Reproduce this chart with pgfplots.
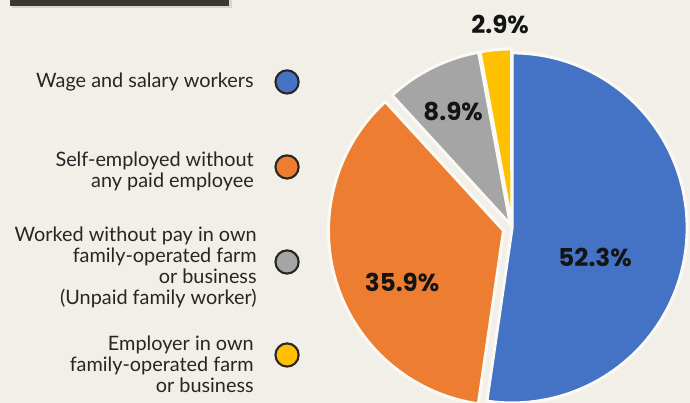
\documentclass[border=0pt]{standalone}
\usepackage{pgfplots}
\pgfplotsset{compat=1.18}
\usepackage{pgfplotstable}
\usepackage{fontspec}
\setmainfont{Lato}
\newfontfamily\pctfont{Poppins}

\definecolor{bg}{HTML}{F1EFE8}
\definecolor{sep}{HTML}{FBF9F3}
\definecolor{boxdark}{HTML}{3A392F}
\definecolor{txt}{HTML}{262626}
\definecolor{pblue}{HTML}{4472C4}
\definecolor{porange}{HTML}{ED7D31}
\definecolor{pgrey}{HTML}{A5A5A5}
\definecolor{pyellow}{HTML}{FFC000}

\begin{document}
\begin{tikzpicture}
% shares in percent, clockwise from 12 o'clock
\pgfplotstableread{
share
52.3
35.9
8.9
2.9
}\sharetable
\pgfplotstablegetelem{0}{share}\of\sharetable \let\sA\pgfplotsretval
\pgfplotstablegetelem{1}{share}\of\sharetable \let\sB\pgfplotsretval
\pgfplotstablegetelem{2}{share}\of\sharetable \let\sC\pgfplotsretval
\pgfplotstablegetelem{3}{share}\of\sharetable \let\sD\pgfplotsretval
\pgfmathsetmacro\aA{90}
\pgfmathsetmacro\aB{\aA-3.6*\sA}
\pgfmathsetmacro\aC{\aB-3.6*\sB}
\pgfmathsetmacro\aD{\aC-3.6*\sC}
\pgfmathsetmacro\aE{\aD-3.6*\sD}
% centre of the pie and small explode offsets (pixel units)
\def\cx{512}\def\cy{175}\def\R{175}
\pgfmathsetmacro\oBx{\cx+9*cos((\aB+\aC)/2)}\pgfmathsetmacro\oBy{\cy+9*sin((\aB+\aC)/2)}
\pgfmathsetmacro\oCx{\cx+4*cos((\aC+\aD)/2)}\pgfmathsetmacro\oCy{\cy+4*sin((\aC+\aD)/2)}
\pgfmathsetmacro\oDx{\cx+4*cos((\aD+\aE)/2)}\pgfmathsetmacro\oDy{\cy+4*sin((\aD+\aE)/2)}

\clip (0,0) rectangle (13.8cm,8.06cm);
\fill[bg] (0,0) rectangle (13.8cm,8.06cm);

\newcommand\slice[5]{%
  \addplot[fill=#5, draw=sep, line width=1.7pt, line join=round]
    coordinates {(#1,#2)}
    -- (axis cs:{#1+\R*cos(#3)},{#2+\R*sin(#3)})
    arc[start angle=#3, end angle=#4, radius=3.5cm] -- cycle;
}

\begin{axis}[
  x=0.02cm, y=0.02cm,
  xmin=0, xmax=690, ymin=0, ymax=403,
  anchor=south west, at={(0,0)},
  hide axis, clip=true,
]
% dark title box, cut off at the top
\fill[black!25, opacity=0.5] (axis cs:12,395) rectangle (axis cs:232,403);
\fill[boxdark] (axis cs:10,397) rectangle (axis cs:229,403);

\slice{\cx}{\cy}{\aA}{\aB}{pblue}
\slice{\oBx}{\oBy}{\aB}{\aC}{porange}
\slice{\oCx}{\oCy}{\aC}{\aD}{pgrey}
\slice{\oDx}{\oDy}{\aD}{\aE}{pyellow}

% legend markers
\addplot[only marks, mark=*, mark size=6.6pt, mark options={fill=pblue, draw=black!85, line width=1.2pt}] coordinates {(287,321)};
\addplot[only marks, mark=*, mark size=6.6pt, mark options={fill=porange, draw=black!85, line width=1.2pt}] coordinates {(287,236)};
\addplot[only marks, mark=*, mark size=6.6pt, mark options={fill=pgrey, draw=black!85, line width=1.2pt}] coordinates {(287,141)};
\addplot[only marks, mark=*, mark size=6.6pt, mark options={fill=pyellow, draw=black!85, line width=1.2pt}] coordinates {(287,48)};

\begin{scope}[every node/.style={anchor=east, align=right, text=txt, font=\fontsize{11.3}{12}\selectfont, inner sep=0pt}]
\node at (axis cs:254,321) {Wage and salary workers};
\node at (axis cs:254,231.5) {Self-employed without\\any paid employee};
\node at (axis cs:257,135.5) {Worked without pay in own\\family-operated farm\\or business\\(Unpaid family worker)};
\node at (axis cs:254,39) {Employer in own\\family-operated farm\\or business};
\end{scope}

\begin{scope}[every node/.style={text=black!92, font=\pctfont\bfseries\fontsize{14}{15}\selectfont, inner sep=0pt}]
\node at (axis cs:500,378) {2.9\%};
\node at (axis cs:453,291) {8.9\%};
\node at (axis cs:402,121) {35.9\%};
\node at (axis cs:595,146) {52.3\%};
\end{scope}
\end{axis}
\end{tikzpicture}
\end{document}
